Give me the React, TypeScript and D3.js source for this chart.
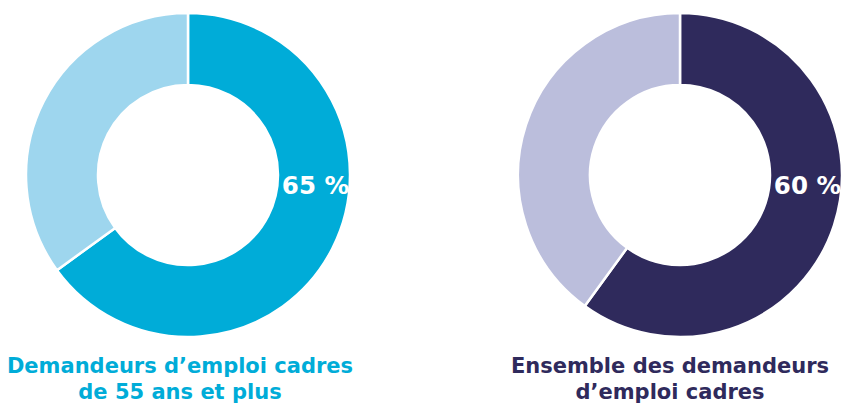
import React from "react";
import * as d3 from "d3";

const W = 845;
const H = 403;

const donutIds = ["seniors", "all"];
const shares = [65, 60];
const valueLabels = ["65 %", "60 %"];
const titleLines = [
  ["Demandeurs d’emploi cadres", "de 55 ans et plus"],
  ["Ensemble des demandeurs", "d’emploi cadres"],
];
const mainColors = ["#00acd8", "#2f2a5c"];
const restColors = ["#9ed6ee", "#bbbedc"];

export default function App() {
  const centersX = [188, 680];
  const cy = 175;
  const outerR = 162;
  const innerR = 90;
  const pie = d3.pie<number>().sort(null).value((d) => d);
  const arc = d3.arc<d3.PieArcDatum<number>>().innerRadius(innerR).outerRadius(outerR);
  const titleCenters = [180, 670];
  const font = "'DejaVu Sans', 'Open Sans', sans-serif";

  return (
    <svg
      width={W}
      height={H}
      style={{ position: "absolute", left: 0, top: 0, background: "#fff" }}
    >
      {donutIds.map((id, i) => {
        const arcs = pie([shares[i], 100 - shares[i]]);
        return (
          <g key={id}>
            <g transform={`translate(${centersX[i]},${cy})`}>
              {arcs.map((a, j) => (
                <path
                  key={j}
                  d={arc(a) || ""}
                  fill={j === 0 ? mainColors[i] : restColors[i]}
                  stroke="#fff"
                  strokeWidth={2.5}
                />
              ))}
              <text
                x={outerR - 1}
                y={19}
                textAnchor="end"
                fill="#fff"
                fontFamily={font}
                fontWeight={700}
                fontSize={24.5}
              >
                {valueLabels[i]}
              </text>
            </g>
            {titleLines[i].map((line, k) => (
              <text
                key={k}
                x={titleCenters[i]}
                y={373 + k * 26}
                textAnchor="middle"
                fill={mainColors[i]}
                fontFamily={font}
                fontWeight={700}
                fontSize={21}
              >
                {line}
              </text>
            ))}
          </g>
        );
      })}
    </svg>
  );
}
